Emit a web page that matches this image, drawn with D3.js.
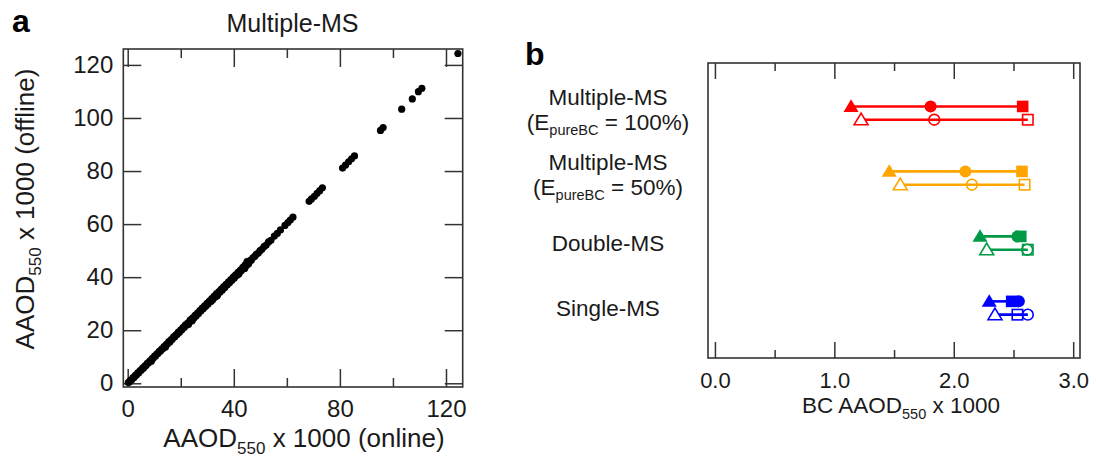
<!DOCTYPE html>
<html>
<head>
<meta charset="utf-8">
<script src="https://cdn.jsdelivr.net/npm/d3@7"></script>
<style>
  html, body { margin: 0; padding: 0; background: #fff; }
  svg { display: block; font-family: "Liberation Sans", Arial, Helvetica, sans-serif; }
</style>
</head>
<body>
<svg id="chart" width="1096" height="463"></svg>
<script>
// ---------- Panel a data (AAOD550 x 1000) ----------
const online = [0.2,0.6,1.0,1.5,2.0,2.4,2.9,3.3,3.8,4.2,4.7,5.1,5.6,6.0,6.5,6.9,7.4,7.8,8.3,8.7,9.2,9.6,10.1,10.5,11.0,11.4,11.9,12.3,12.8,13.2,13.7,14.1,14.6,15.0,15.5,15.9,16.4,16.8,17.3,17.7,18.2,18.6,19.1,19.5,20.0,20.4,20.9,21.3,21.8,22.2,22.7,23.1,23.6,24.0,24.5,24.9,25.4,25.8,26.3,26.7,27.2,27.6,28.1,28.5,29.0,29.4,29.9,30.3,30.8,31.2,31.7,32.1,32.6,33.0,33.5,33.9,34.4,34.8,35.3,35.7,36.2,36.6,37.1,37.5,38.0,38.4,38.9,39.3,39.8,40.2,40.7,41.1,41.6,42.0,42.5,42.9,43.4,43.8,44.3,44.7,45.2,45.6,46.1,46.6,47.2,47.9,48.5,49.2,49.9,50.6,51.4,52.2,53.1,54.0,55.3,56.4,57.6,59.3,60.4,61.3,62.3,68.4,69.3,70.4,71.4,72.4,73.4,81.0,82.1,83.3,84.4,85.5,95.3,96.3,103.3,107.3,109.6,110.9,124.5,22.9,24.3,31.5,33.7,41.9,44.1,45.0,8.9,14.2];
const offline = [0.3,0.5,1.1,1.3,2.1,2.2,3.0,3.1,3.9,4.0,4.8,4.9,5.7,5.8,6.6,6.7,7.5,7.6,8.4,8.5,9.3,9.4,10.2,10.3,11.1,11.2,12.0,12.1,12.9,13.0,13.8,13.9,14.7,14.8,15.7,15.6,16.5,16.6,17.5,17.4,18.3,18.4,19.3,19.2,20.1,20.2,21.1,21.0,22.0,21.9,22.8,22.7,23.9,23.6,24.7,24.5,25.6,25.4,26.5,26.3,27.4,27.2,28.3,28.1,29.2,29.0,30.1,29.9,31.0,30.8,31.9,31.6,32.9,32.5,33.8,33.4,34.6,34.3,35.5,35.2,36.4,36.1,37.3,37.0,38.2,37.9,39.1,38.8,40.0,39.7,40.9,40.6,41.8,41.6,42.7,42.5,43.7,43.4,44.6,44.3,45.4,45.1,46.2,46.4,47.3,47.8,48.6,49.1,50.0,50.5,51.5,52.1,53.3,53.9,55.5,56.5,57.8,59.5,60.6,61.5,62.6,68.6,69.5,70.5,71.6,72.6,73.7,81.1,82.2,83.5,84.6,85.7,95.3,96.4,103.3,107.2,109.9,111.2,124.3,22.2,23.6,30.9,32.9,41.2,43.3,45.9,8.3,13.6];
const aMajorTicks = [0, 40, 80, 120];
const aMinorTicks = [20, 60, 100];
const aYTicks = [0, 20, 40, 60, 80, 100, 120];

// ---------- Panel b data (BC AAOD550 x 1000) ----------
const categories = ["Multiple-MS (EpureBC = 100%)", "Multiple-MS (EpureBC = 50%)", "Double-MS", "Single-MS"];
const labelLine1 = ["Multiple-MS", "Multiple-MS", "Double-MS", "Single-MS"];
const labelLine2 = ["= 100%)", "= 50%)", null, null];
const colors = ["#ff0000", "#ffa500", "#009a46", "#0000ff"];
const filledTriangle = [1.14, 1.46, 2.22, 2.297];
const filledCircle   = [1.806, 2.097, 2.533, 2.545];
const filledSquare   = [2.577, 2.571, 2.561, 2.485];
const openTriangle   = [1.224, 1.552, 2.276, 2.345];
const openCircle     = [1.837, 2.152, 2.615, 2.62];
const openSquare     = [2.62, 2.593, 2.62, 2.533];
const bMajorTicks = [0, 1, 2, 3];
const bMinorTicks = [0.5, 1.5, 2.5];

const svg = d3.select("#chart");
const ink = "#1a1a1a";
const frameCol = "#333";

// ================= Panel a =================
const ax = d3.scaleLinear().domain([-1.66, 126.3]).range([123.3, 462.7]);
const ay = d3.scaleLinear().domain([-1.4, 126.0]).range([387, 49]);
const gA = svg.append("g");

function styleAxis(g, fs) {
  g.select(".domain").remove();
  g.selectAll(".tick line").attr("stroke", frameCol).attr("stroke-width", 1.5);
  g.selectAll(".tick text").attr("fill", ink).attr("font-size", fs).attr("font-family", "Liberation Sans, Arial, sans-serif");
}

gA.append("g").attr("transform", "translate(0,387)")
  .call(d3.axisBottom(ax).tickValues(aMajorTicks).tickSize(-18).tickPadding(13).tickFormat(d3.format("d")))
  .call(g => styleAxis(g, 24));
gA.append("g").attr("transform", "translate(0,387)")
  .call(d3.axisBottom(ax).tickValues(aMinorTicks).tickSize(-9).tickFormat(""))
  .call(g => styleAxis(g, 24));
gA.append("g").attr("transform", "translate(0,49)")
  .call(d3.axisTop(ax).tickValues(aMajorTicks).tickSize(-18).tickFormat(""))
  .call(g => styleAxis(g, 24));
gA.append("g").attr("transform", "translate(0,49)")
  .call(d3.axisTop(ax).tickValues(aMinorTicks).tickSize(-9).tickFormat(""))
  .call(g => styleAxis(g, 24));
gA.append("g").attr("transform", "translate(123.3,0)")
  .call(d3.axisLeft(ay).tickValues(aYTicks).tickSize(-18).tickPadding(10).tickFormat(d3.format("d")))
  .call(g => styleAxis(g, 24));
gA.append("g").attr("transform", "translate(462.7,0)")
  .call(d3.axisRight(ay).tickValues(aYTicks).tickSize(-18).tickFormat(""))
  .call(g => styleAxis(g, 24));

gA.append("rect").attr("x", 123.3).attr("y", 49).attr("width", 462.7 - 123.3).attr("height", 387 - 49)
  .attr("fill", "none").attr("stroke", frameCol).attr("stroke-width", 1.6);

gA.append("g").selectAll("circle").data(online.map((d, i) => [d, offline[i]])).join("circle")
  .attr("cx", d => ax(d[0])).attr("cy", d => ay(d[1])).attr("r", 3.6).attr("fill", "#000");

// title & labels
gA.append("text").attr("x", 292.5).attr("y", 31.5).attr("text-anchor", "middle")
  .attr("font-size", 25).attr("fill", ink).text("Multiple-MS");
gA.append("text").attr("x", 12).attr("y", 32).attr("font-size", 32).attr("font-weight", "bold").attr("fill", "#000").text("a");

const xl = gA.append("text").attr("x", 304).attr("y", 447).attr("text-anchor", "middle").attr("font-size", 26).attr("fill", ink);
xl.append("tspan").text("AAOD");
xl.append("tspan").attr("font-size", 17).attr("dy", 7).text("550");
xl.append("tspan").attr("dy", -7).text(" x 1000 (online)");

const yl = gA.append("text").attr("transform", "translate(34,209) rotate(-90)").attr("text-anchor", "middle").attr("font-size", 26).attr("fill", ink);
yl.append("tspan").text("AAOD");
yl.append("tspan").attr("font-size", 17).attr("dy", 7).text("550");
yl.append("tspan").attr("dy", -7).text(" x 1000 (offline)");

// ================= Panel b =================
const bx = d3.scaleLinear().domain([-0.058, 3.057]).range([708, 1080]);
const by = d3.scalePoint().domain(categories).range([63, 358]).padding(0.77);
const gB = svg.append("g");

gB.append("g").attr("transform", "translate(0,358)")
  .call(d3.axisBottom(bx).tickValues(bMajorTicks).tickSize(-16).tickPadding(14).tickFormat(d3.format(".1f")))
  .call(g => styleAxis(g, 22));
gB.append("g").attr("transform", "translate(0,358)")
  .call(d3.axisBottom(bx).tickValues(bMinorTicks).tickSize(-8).tickFormat(""))
  .call(g => styleAxis(g, 22));
gB.append("g").attr("transform", "translate(0,63)")
  .call(d3.axisTop(bx).tickValues(bMajorTicks).tickSize(-16).tickFormat(""))
  .call(g => styleAxis(g, 22));
gB.append("g").attr("transform", "translate(0,63)")
  .call(d3.axisTop(bx).tickValues(bMinorTicks).tickSize(-8).tickFormat(""))
  .call(g => styleAxis(g, 22));

gB.append("rect").attr("x", 708).attr("y", 63).attr("width", 1080 - 708).attr("height", 358 - 63)
  .attr("fill", "none").attr("stroke", frameCol).attr("stroke-width", 1.6);

const offF = -6.6, offO = 6.7;
const triPath = (x, y, s) => `M${x},${y - s * 0.55}L${x + s * 0.58},${y + s * 0.42}L${x - s * 0.58},${y + s * 0.42}Z`;

categories.forEach((c, i) => {
  const col = colors[i];
  const yF = by(c) + offF, yO = by(c) + offO;
  const fMin = Math.min(filledTriangle[i], filledCircle[i], filledSquare[i]);
  const fMax = Math.max(filledTriangle[i], filledCircle[i], filledSquare[i]);
  const oMin = Math.min(openTriangle[i], openCircle[i], openSquare[i]);
  const oMax = Math.max(openTriangle[i], openCircle[i], openSquare[i]);
  gB.append("line").attr("x1", bx(fMin)).attr("x2", bx(fMax)).attr("y1", yF).attr("y2", yF)
    .attr("stroke", col).attr("stroke-width", 2.6);
  gB.append("line").attr("x1", bx(oMin)).attr("x2", bx(oMax)).attr("y1", yO).attr("y2", yO)
    .attr("stroke", col).attr("stroke-width", 2.6);
  // filled
  gB.append("path").attr("d", triPath(bx(filledTriangle[i]), yF, 13)).attr("fill", col);
  gB.append("circle").attr("cx", bx(filledCircle[i])).attr("cy", yF).attr("r", 6).attr("fill", col);
  gB.append("rect").attr("x", bx(filledSquare[i]) - 5.8).attr("y", yF - 5.8).attr("width", 11.6).attr("height", 11.6).attr("fill", col);
  // open
  gB.append("path").attr("d", triPath(bx(openTriangle[i]), yO, 12)).attr("fill", "#fff").attr("stroke", col).attr("stroke-width", 1.6);
  gB.append("circle").attr("cx", bx(openCircle[i])).attr("cy", yO).attr("r", 5.4).attr("fill", "none").attr("stroke", col).attr("stroke-width", 1.6);
  gB.append("rect").attr("x", bx(openSquare[i]) - 5.2).attr("y", yO - 5.2).attr("width", 10.4).attr("height", 10.4).attr("fill", "none").attr("stroke", col).attr("stroke-width", 1.6);

  // category labels
  const cy = by(c);
  if (labelLine2[i]) {
    gB.append("text").attr("x", 608).attr("y", cy - 7.6).attr("text-anchor", "middle").attr("font-size", 22.5).attr("fill", ink).text(labelLine1[i]);
    const t = gB.append("text").attr("x", 608).attr("y", cy + 16.7).attr("text-anchor", "middle").attr("font-size", 22.5).attr("fill", ink);
    t.append("tspan").text("(E");
    t.append("tspan").attr("font-size", 14.5).attr("dy", 5).text("pureBC");
    t.append("tspan").attr("dy", -5).text(" " + labelLine2[i]);
  } else {
    gB.append("text").attr("x", 608).attr("y", cy + 8.4).attr("text-anchor", "middle").attr("font-size", 22.5).attr("fill", ink).text(labelLine1[i]);
  }
});

gB.append("text").attr("x", 525).attr("y", 65).attr("font-size", 32).attr("font-weight", "bold").attr("fill", "#000").text("b");

const bl = gB.append("text").attr("x", 901).attr("y", 413).attr("text-anchor", "middle").attr("font-size", 22.5).attr("fill", ink);
bl.append("tspan").text("BC AAOD");
bl.append("tspan").attr("font-size", 14.5).attr("dy", 6).text("550");
bl.append("tspan").attr("dy", -6).text(" x 1000");
</script>
</body>
</html>
